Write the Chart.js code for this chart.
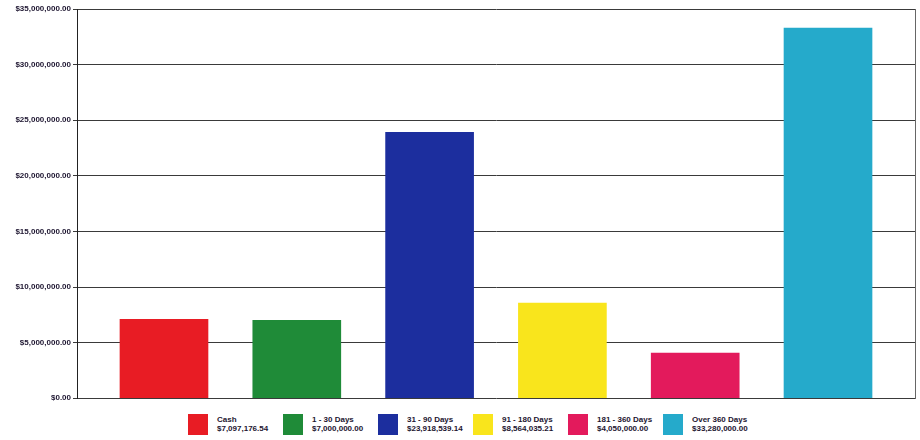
<!DOCTYPE html>
<html lang="en">
<head>
  <meta charset="UTF-8" />
  <title>Portfolio by Maturity</title>
  <script src="https://cdn.jsdelivr.net/npm/chart.js"></script>
  <style>
    body {
      margin: 0;
      background: #fff;
      font-family: "Liberation Sans", Arial, sans-serif;
    }

    #wrap {
      position: relative;
      width: 920px;
      height: 440px;
    }

    #chartBox {
      position: absolute;
      left: 0;
      top: 0;
      width: 920px;
      height: 405px;
    }

    #legend {
      position: absolute;
      left: 188px;
      top: 414px;
      display: flex;
    }

    .item {
      display: flex;
      width: 95px;
    }

    .swatch {
      width: 20px;
      height: 21px;
      margin-right: 9px;
    }

    .txt {
      font-size: 8px;
      font-weight: bold;
      line-height: 9px;
      padding-top: 1px;
      color: #1d1530;
      white-space: nowrap;
    }
  </style>
</head>
<body>
  <div id="wrap">
    <div id="chartBox"><canvas id="myChart"></canvas></div>
    <div id="legend"></div>
  </div>

  <script>
    const categories = ['Cash', '1 - 30 Days', '31 - 90 Days', '91 - 180 Days', '181 - 360 Days', 'Over 360 Days'];
    const amounts = [7097176.54, 7000000.00, 23918539.14, 8564035.21, 4050000.00, 33280000.00];
    const amountLabels = ['$7,097,176.54', '$7,000,000.00', '$23,918,539.14', '$8,564,035.21', '$4,050,000.00', '$33,280,000.00'];
    const barColors = ['#e81c24', '#1f8b38', '#1c2e9e', '#f9e51c', '#e31a5c', '#25aacb'];

    const money = v => '$' + v.toLocaleString('en-US', { minimumFractionDigits: 2, maximumFractionDigits: 2 });

    // html legend, two lines per entry
    const legend = document.getElementById('legend');
    categories.forEach((name, i) => {
      const item = document.createElement('div');
      item.className = 'item';
      item.innerHTML = '<div class="swatch" style="background:' + barColors[i] + '"></div>' +
        '<div class="txt">' + name + '<br>' + amountLabels[i] + '</div>';
      legend.appendChild(item);
    });

    const ctx = document.getElementById('myChart').getContext('2d');
    new Chart(ctx, {
      type: 'bar',
      data: {
        datasets: [{
          data: amounts.map((v, i) => ({ x: i, y: v })),
          backgroundColor: barColors,
          barThickness: 88
        }]
      },
      options: {
        responsive: true,
        maintainAspectRatio: false,
        animation: false,
        layout: { padding: { top: 9, right: 4, bottom: 0, left: 0 } },
        plugins: {
          legend: { display: false },
          tooltip: { enabled: false }
        },
        scales: {
          x: {
            type: 'linear',
            offset: false,
            min: -0.655,
            max: 5.655,
            display: false
          },
          y: {
            min: 0,
            max: 35000000,
            afterFit: s => { s.width = 77; },
            ticks: {
              stepSize: 5000000,
              padding: 2,
              color: '#1d1530',
              font: { family: '"Liberation Sans", Arial, sans-serif', size: 8, weight: 'bold' },
              callback: v => money(v)
            },
            grid: { color: '#3a3a3a', lineWidth: 1, tickLength: 4 },
            border: { color: '#222', width: 1 }
          },
          y2: {
            position: 'right',
            min: 0,
            max: 35000000,
            afterFit: s => { s.width = 1; },
            ticks: { display: false },
            grid: { display: false },
            border: { color: '#666', width: 1 }
          }
        }
      }
    });
  </script>
</body>
</html>
